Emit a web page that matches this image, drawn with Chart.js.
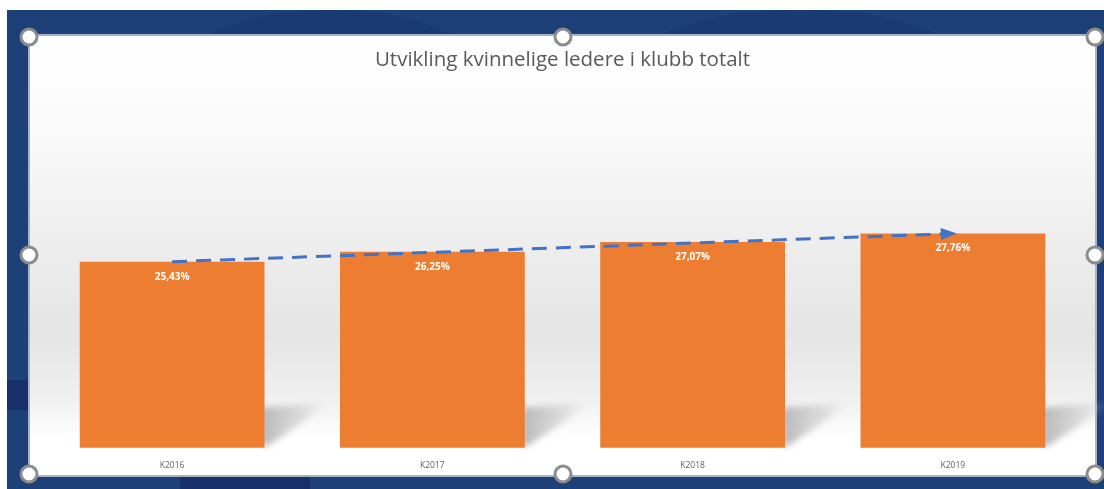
<!DOCTYPE html>
<html>
<head>
<meta charset="utf-8">
<script src="https://cdn.jsdelivr.net/npm/chart.js@4"></script>
<style>
html,body{margin:0;padding:0;background:#fff;}
canvas{display:block;}
</style>
</head>
<body>
<canvas id="c" width="1104" height="489"></canvas>
<script>
const categories = ['K2016', 'K2017', 'K2018', 'K2019'];
const values = [25.43, 26.25, 27.07, 27.76];
const valueLabels = ['25,43%', '26,25%', '27,07%', '27,76%'];
const trendValues = [25.43, null, null, 27.76];
const chartTitle = 'Utvikling kvinnelige ledere i klubb totalt';

const FRAME = {x: 30, y: 36, w: 1065, h: 439};

const backgroundPlugin = {
  id: 'bg',
  beforeDraw(chart) {
    const ctx = chart.ctx;
    ctx.save();
    ctx.fillStyle = '#ffffff';
    ctx.fillRect(0, 0, 1104, 489);
    ctx.fillStyle = '#1d4079';
    ctx.fillRect(7, 10, 1097, 479);
    ctx.fillStyle = '#1a3a72';
    ctx.beginPath(); ctx.ellipse(330, 60, 140, 50, 0, Math.PI, Math.PI * 2); ctx.fill();
    ctx.beginPath(); ctx.ellipse(800, 60, 160, 50, 0, Math.PI, Math.PI * 2); ctx.fill();
    ctx.fillStyle = '#17306a';
    ctx.fillRect(180, 477, 130, 12);
    ctx.fillRect(7, 380, 22, 30);
    const g = ctx.createLinearGradient(0, FRAME.y, 0, FRAME.y + FRAME.h);
    g.addColorStop(0, '#ffffff');
    g.addColorStop(0.2, '#fbfbfb');
    g.addColorStop(0.5, '#ececec');
    g.addColorStop(0.68, '#e5e5e5');
    g.addColorStop(0.82, '#efefef');
    g.addColorStop(0.92, '#ffffff');
    g.addColorStop(1, '#ffffff');
    ctx.fillStyle = g;
    ctx.fillRect(FRAME.x, FRAME.y, FRAME.w, FRAME.h);
    ctx.strokeStyle = '#a9b3c4';
    ctx.lineWidth = 2;
    ctx.strokeRect(FRAME.x - 1, FRAME.y - 1, FRAME.w + 2, FRAME.h + 2);
    ctx.restore();
  }
};

const shadowPlugin = {
  id: 'shadows',
  beforeDatasetsDraw(chart) {
    const ctx = chart.ctx;
    const xs = chart.scales.x, ys = chart.scales.y;
    const step = xs.width / categories.length;
    const half = step * 0.71 / 2;
    const yb = ys.bottom;
    ctx.save();
    ctx.filter = 'blur(3px)';
    categories.forEach((c, i) => {
      const xr = xs.getPixelForValue(i) + half;
      const sg = ctx.createLinearGradient(xr, 0, xr + 66, 0);
      sg.addColorStop(0, 'rgba(165,165,165,0.75)');
      sg.addColorStop(0.6, 'rgba(190,190,190,0.45)');
      sg.addColorStop(1, 'rgba(220,220,220,0.0)');
      ctx.fillStyle = sg;
      ctx.beginPath();
      ctx.moveTo(xr - 4, yb - 40);
      ctx.lineTo(xr + 66, yb - 45);
      ctx.lineTo(xr + 4, yb - 2);
      ctx.lineTo(xr - 4, yb - 2);
      ctx.closePath();
      ctx.fill();
    });
    ctx.restore();
  }
};

const overlayPlugin = {
  id: 'overlay',
  afterDatasetsDraw(chart) {
    const ctx = chart.ctx;
    ctx.save();
    const meta = chart.getDatasetMeta(0);
    ctx.fillStyle = '#ffffff';
    ctx.font = 'bold 10px "Open Sans", sans-serif';
    ctx.textAlign = 'center';
    ctx.textBaseline = 'middle';
    meta.data.forEach((bar, i) => {
      ctx.fillText(valueLabels[i], bar.x, bar.y + 15);
    });
    const lm = chart.getDatasetMeta(1);
    const pts = lm.data.filter((p, i) => trendValues[i] !== null);
    const a = pts[0], b = pts[pts.length - 1];
    const ang = Math.atan2(b.y - a.y, b.x - a.x);
    const L = 12, W = 6;
    ctx.fillStyle = '#4472c4';
    ctx.beginPath();
    ctx.moveTo(b.x + 4 * Math.cos(ang), b.y + 4 * Math.sin(ang));
    ctx.lineTo(b.x - L * Math.cos(ang) + W * Math.sin(ang), b.y - L * Math.sin(ang) - W * Math.cos(ang));
    ctx.lineTo(b.x - L * Math.cos(ang) - W * Math.sin(ang), b.y - L * Math.sin(ang) + W * Math.cos(ang));
    ctx.closePath();
    ctx.fill();
    ctx.restore();
  },
  afterDraw(chart) {
    const ctx = chart.ctx;
    ctx.save();
    const handles = [[29,37],[563,37],[1095,37],[29,255],[1095,255],[29,474],[563,474],[1095,474]];
    handles.forEach(([x, y]) => {
      ctx.beginPath();
      ctx.arc(x, y, 8, 0, Math.PI * 2);
      ctx.fillStyle = '#ffffff';
      ctx.fill();
      ctx.lineWidth = 3;
      ctx.strokeStyle = '#8c8c8c';
      ctx.stroke();
    });
    ctx.restore();
  }
};

new Chart(document.getElementById('c'), {
  data: {
    labels: categories,
    datasets: [
      {
        type: 'bar',
        data: values,
        backgroundColor: '#ed7d31',
        barPercentage: 0.71,
        categoryPercentage: 1.0,
        order: 2
      },
      {
        type: 'line',
        data: trendValues,
        spanGaps: true,
        borderColor: '#4472c4',
        borderWidth: 3,
        borderDash: [15, 9],
        pointRadius: 0,
        fill: false,
        order: 1
      }
    ]
  },
  options: {
    responsive: false,
    animation: false,
    devicePixelRatio: 1,
    layout: { padding: { left: 42, right: 21, top: 0, bottom: 13 } },
    plugins: {
      legend: { display: false },
      tooltip: { enabled: false },
      title: {
        display: true,
        text: chartTitle,
        color: '#595959',
        font: { family: '"Open Sans", sans-serif', size: 20.5, weight: 'normal' },
        padding: { top: 48, bottom: 134 }
      }
    },
    scales: {
      x: {
        grid: { display: false },
        border: { display: false },
        ticks: { color: '#5f5f5f', font: { family: '"Open Sans", sans-serif', size: 8.5 }, padding: 5 }
      },
      y: {
        display: false,
        min: 10,
        max: 30
      }
    }
  },
  plugins: [backgroundPlugin, shadowPlugin, overlayPlugin]
});
</script>
</body>
</html>
